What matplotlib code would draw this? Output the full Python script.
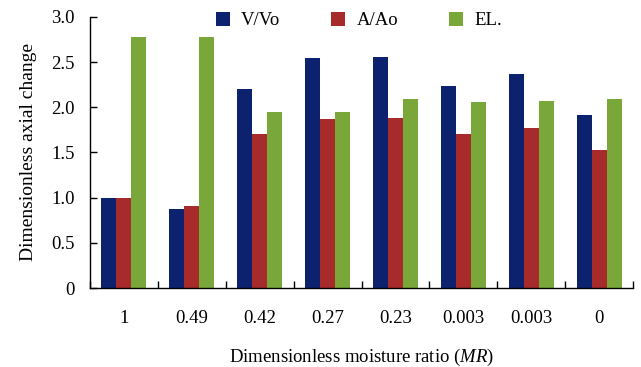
import numpy as np
import matplotlib.pyplot as plt

plt.rcParams["font.family"] = "Liberation Serif"
plt.rcParams["mathtext.fontset"] = "custom"
plt.rcParams["mathtext.rm"] = "Liberation Serif"
plt.rcParams["mathtext.it"] = "Liberation Serif:italic"

categories = ["1", "0.49", "0.42", "0.27", "0.23", "0.003", "0.003", "0"]
v_vo = [1.00, 0.88, 2.20, 2.55, 2.56, 2.24, 2.37, 1.92]
a_ao = [1.00, 0.91, 1.70, 1.87, 1.88, 1.71, 1.77, 1.53]
el = [2.78, 2.78, 1.95, 1.95, 2.09, 2.06, 2.07, 2.09]
series_names = ["V/Vo", "A/Ao", "EL."]
colors = ["#0c226f", "#a82b2b", "#7aa73a"]

fig = plt.figure(figsize=(6.41, 3.67), dpi=100)
ax = fig.add_axes([0.140, 0.215, 0.848, 0.739])

x = np.arange(len(categories))
w = 0.22
for i, (vals, name, c) in enumerate(zip([v_vo, a_ao, el], series_names, colors)):
    ax.bar(x + (i - 1) * w, vals, width=w, color=c, label=name)

ax.set_xlim(-0.5, len(categories) - 0.5)
ax.set_ylim(0, 3.0)

ax.set_yticks([0, 0.5, 1.0, 1.5, 2.0, 2.5, 3.0])
ax.set_yticklabels(["0", "0.5", "1.0", "1.5", "2.0", "2.5", "3.0"])
ax.tick_params(axis="y", direction="in", length=5, width=1, labelsize=13.5, pad=11)

ax.set_xticks(x)
ax.set_xticklabels(categories)
ax.tick_params(axis="x", which="major", length=0, labelsize=13.5, pad=16)
ax.set_xticks(np.arange(len(categories) + 1) - 0.5, minor=True)
ax.tick_params(axis="x", which="minor", direction="in", length=5, width=1)

for s in ["top", "right"]:
    ax.spines[s].set_visible(False)
for s in ["left", "bottom"]:
    ax.spines[s].set_linewidth(1)

ax.set_ylabel("Dimensionless axial change", fontsize=14, labelpad=10)
ax.set_xlabel("Dimensionless moisture ratio ($\\mathit{MR}$)", fontsize=13.5, labelpad=14)

ax.legend(loc="upper center", bbox_to_anchor=(0.495, 1.08), ncol=3, frameon=False,
          fontsize=13.5, handlelength=0.75, handleheight=0.75, columnspacing=2.7,
          handletextpad=0.6)

fig.savefig("out.png", dpi=100)
